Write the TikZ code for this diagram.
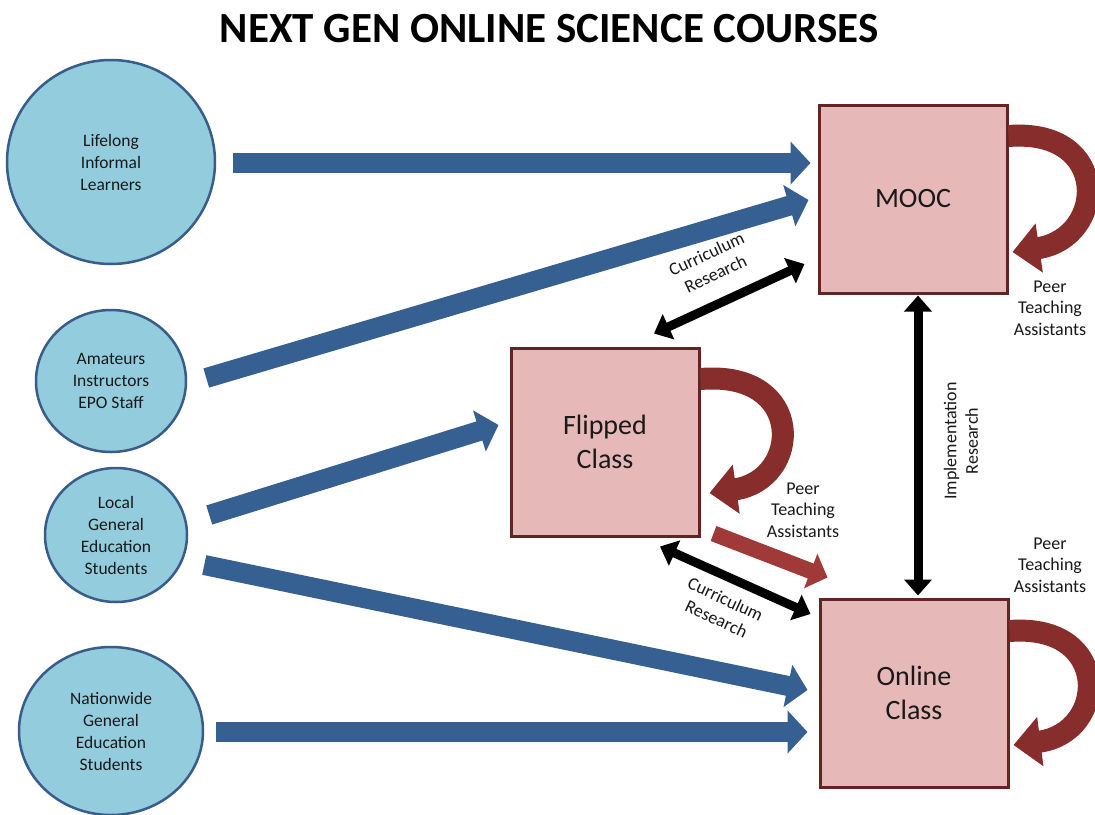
\documentclass[tikz,border=0pt]{standalone}
\usepackage{fontspec}
\setmainfont{Carlito}
\usetikzlibrary{arrows.meta,calc,shapes.geometric}
\definecolor{circfill}{RGB}{147,205,221}
\definecolor{circline}{RGB}{56,93,138}
\definecolor{bluearr}{RGB}{55,96,146}
\definecolor{boxfill}{RGB}{230,185,184}
\definecolor{boxline}{RGB}{99,37,35}
\definecolor{redarr}{RGB}{135,46,44}
\definecolor{redarr2}{RGB}{160,58,56}
\definecolor{txt}{RGB}{25,25,25}
\tikzset{
  srcnode/.style={ellipse, draw=circline, fill=circfill, line width=2.5pt, inner sep=0pt,
    align=center, text=txt, font=\fontsize{17.5}{22}\selectfont},
  boxnode/.style={rectangle, draw=boxline, fill=boxfill, line width=3pt, inner sep=0pt,
    minimum width=188pt, minimum height=188pt, align=center, text=txt,
    font=\fontsize{28}{34}\selectfont},
  lbl/.style={align=center, text=txt, font=\fontsize{18}{21.5}\selectfont, inner sep=0pt},
  bluearrow/.style={draw=bluearr, line width=20pt, -{Triangle[length=20pt,width=42pt]}},
  blackarrow/.style={draw=black, line width=9pt, {Triangle[length=16pt,width=27pt]}-{Triangle[length=16pt,width=27pt]}},
  looparrow/.style={draw=redarr, line width=22pt, -{Triangle[length=27pt,width=48pt]}},
  redarrow/.style={draw=redarr2, line width=16pt, -{Triangle[length=18pt,width=36pt]}},
}
\begin{document}
\begin{tikzpicture}[x=1pt,y=-1pt]
\fill[white] (0,0) rectangle (1095,814);
\useasboundingbox (0,0) rectangle (1095,814);

\node[anchor=base, text=black, font=\bfseries\fontsize{43}{50}\selectfont] (title) at (549,42) {NEXT GEN ONLINE SCIENCE COURSES};

% sources
\node[srcnode, minimum width=208pt, minimum height=204pt] (lifelong) at (111,162) {Lifelong\\Informal\\Learners};
\node[srcnode, minimum width=150pt, minimum height=142pt] (amateurs) at (111,381) {Amateurs\\Instructors\\EPO Staff};
\node[srcnode, minimum width=142pt, minimum height=134pt] (local) at (116,535) {Local\\General\\Education\\Students};
\node[srcnode, minimum width=184pt, minimum height=168pt] (nation) at (111,731) {Nationwide\\General\\Education\\Students};

% courses
\node[boxnode] (mooc) at (913,199) {MOOC};
\node[boxnode] (flipped) at (605,442) {Flipped\\Class};
\node[boxnode] (online) at (914,693) {Online\\Class};

% blue arrows
\draw[bluearrow] ($(lifelong.east)+(17,1)$) -- ($(mooc.west)+(-7,-36)$);
\draw[bluearrow] ($(amateurs.east)+(19,-3)$) -- ($(mooc.west)+(-9,1)$);
\draw[bluearrow] ($(local.east)+(21,-20)$) -- ($(flipped.west)+(-11,-17)$);
\draw[bluearrow] ($(local.east)+(16,30)$) -- ($(online.west)+(-11,-3)$);
\draw[bluearrow] ($(nation.east)+(12,1)$) -- ($(online.west)+(-11,39)$);

% black research arrows
\draw[blackarrow] ($(flipped.north)+(49,-13)$) -- ($(mooc.west)+(-13,65)$);
\draw[blackarrow] ($(flipped.south)+(55,9)$) -- ($(online.west)+(-8,-79)$);
\draw[blackarrow] ($(mooc.south)+(5,1)$) -- ($(online.north)+(4,-2)$);

% red straight arrow
\draw[redarrow] ($(flipped.south east)+(13,-4)$) -- ($(online.north west)+(9,-20)$);

% peer loops
\draw[looparrow] ($(mooc.east)+(0,-63)$) .. controls ($(mooc.east)+(103,-71)$) and ($(mooc.east)+(98,39)$) .. ($(mooc.east)+(4,53)$);
\draw[looparrow] ($(flipped.east)+(0,-63)$) .. controls ($(flipped.east)+(106,-72)$) and ($(flipped.east)+(101,38)$) .. ($(flipped.east)+(9,51)$);
\draw[looparrow] ($(online.east)+(0,-62)$) .. controls ($(online.east)+(103,-70)$) and ($(online.east)+(98,40)$) .. ($(online.east)+(4,52)$);

% labels
\node[lbl, rotate=25] (cr1) at (711,264) {Curriculum\\Research};
\node[lbl, rotate=-25] (cr2) at (721,609) {Curriculum\\Research};
\node[lbl, rotate=90] (ir) at (961,441) {Implementation\\Research};
\node[lbl] (pt1) at (1050,308) {Peer\\Teaching\\Assistants};
\node[lbl] (pt2) at (803,510) {Peer\\Teaching\\Assistants};
\node[lbl] (pt3) at (1050,565) {Peer\\Teaching\\Assistants};
\end{tikzpicture}
\end{document}
